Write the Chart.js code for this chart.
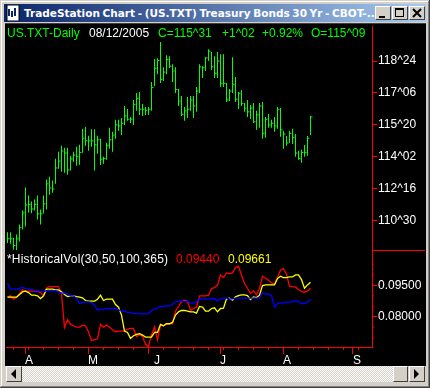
<!DOCTYPE html>
<html><head><meta charset="utf-8">
<script src="https://cdn.jsdelivr.net/npm/chart.js@4/dist/chart.umd.min.js"></script>
<style>
html,body{margin:0;padding:0;background:#d4d0c8;overflow:hidden}
#win{position:relative;width:430px;height:388px;background:#d4d0c8;overflow:hidden;box-sizing:border-box}
.abs{position:absolute}
#edgeT2{left:1px;top:1px;width:427px;height:1px;background:#fff}
#edgeL2{left:1px;top:1px;width:1px;height:385px;background:#fff}
#edgeR{left:429px;top:0;width:1px;height:388px;background:#404040}
#edgeR2{left:428px;top:1px;width:1px;height:386px;background:#808080}
#edgeB{left:0;top:387px;width:430px;height:1px;background:#404040}
#edgeB2{left:1px;top:386px;width:428px;height:1px;background:#808080}
#title{left:4px;top:4px;width:422px;height:18px;background:linear-gradient(90deg,#0a246a,#a6caf0)}
#ttext{left:24px;top:5px;color:#fff;font:bold 10.5px "DejaVu Sans";word-spacing:-1px;white-space:nowrap;line-height:16px}
#plot{left:5px;top:23px;width:421px;height:343px;background:#000;border-top:1px solid #404040;box-sizing:border-box}
canvas{position:absolute;left:6px;top:18px}
.leg{position:absolute;font:12px "Liberation Sans";white-space:nowrap;line-height:14px}
.btn{position:absolute;box-sizing:border-box;background:#d4d0c8;border:1px solid;border-color:#fff #404040 #404040 #fff}
#hatch{left:22px;top:366px;width:371px;height:16px;background-color:#fff;background-image:conic-gradient(#d4d0c8 25%,#fff 0 50%,#d4d0c8 0 75%,#fff 0);background-size:2px 2px}
#sep{left:372px;top:250px;width:53px;height:1px;background:#f00}
</style></head><body>
<div id="win">
<div class="abs" id="edgeT2"></div><div class="abs" id="edgeL2"></div>
<div class="abs" id="edgeR"></div><div class="abs" id="edgeR2"></div><div class="abs" id="edgeB"></div><div class="abs" id="edgeB2"></div>
<div class="abs" id="plot"></div>
<canvas id="c" width="419" height="348"></canvas>
<div class="abs" id="title"></div>
<svg class="abs" style="left:5px;top:5px" width="16" height="16"><rect x="2" y="0" width="12" height="16" fill="#fff" stroke="#000"/><path d="M4 11V4M7 12V6M10 11V3" stroke="#0a246a" stroke-width="2"/></svg>
<div class="abs" id="ttext">TradeStation Chart - (US.TXT) Treasury Bonds 30 Yr - CBOT-...</div>
<div class="btn" style="left:375px;top:6px;width:16px;height:14px"><div class="abs" style="left:3px;top:9px;width:6px;height:2px;background:#000"></div></div>
<div class="btn" style="left:392px;top:6px;width:16px;height:14px"><div class="abs" style="left:2px;top:1px;width:9px;height:9px;border:1px solid #000;border-top-width:2px;box-sizing:border-box"></div></div>
<div class="btn" style="left:409px;top:6px;width:16px;height:14px"><svg class="abs" style="left:2px;top:1px" width="10" height="10"><path d="M1 1L9 9M9 1L1 9" stroke="#000" stroke-width="2"/></svg></div>
<div class="abs" id="sep"></div>
<span class="leg" style="left:7px;top:26px;color:#0f0">US.TXT-Daily</span>
<span class="leg" style="left:89px;top:26px;color:#fff">08/12/2005</span>
<span class="leg" style="left:158px;top:26px;color:#0f0">C=115^31</span>
<span class="leg" style="left:222px;top:26px;color:#0f0">+1^02</span>
<span class="leg" style="left:262px;top:26px;color:#0f0">+0.92%</span>
<span class="leg" style="left:311px;top:26px;color:#0f0">O=115^09</span>
<span class="leg" style="left:7px;top:252px;color:#fff;letter-spacing:.2px">*HistoricalVol(30,50,100,365)</span>
<span class="leg" style="left:176px;top:252px;color:#f00">0.09440</span>
<span class="leg" style="left:228px;top:252px;color:#ff0">0.09661</span>
<div class="abs" id="hatch"></div>
<div class="btn" style="left:6px;top:366px;width:16px;height:16px"><svg class="abs" style="left:4px;top:2px" width="6" height="10"><path d="M5 0V10L0 5Z" fill="#000"/></svg></div>
<div class="btn" style="left:393px;top:366px;width:15px;height:16px"></div>
<div class="btn" style="left:409px;top:366px;width:16px;height:16px"><svg class="abs" style="left:4px;top:2px" width="6" height="10"><path d="M0 0V10L5 5Z" fill="#000"/></svg></div>
</div>
<script>
const highs=[110.36,110.36,110.09,110.25,110.74,111.42,112.55,112.16,111.86,111.96,
112.16,111.47,112.16,112.94,113.08,112.89,113.96,114.30,114.60,114.50,
114.50,114.11,114.30,114.55,114.65,115.43,115.53,115.09,115.41,115.41,
115.09,114.94,114.06,114.74,115.48,115.28,115.87,115.87,115.96,116.55,
116.40,116.01,116.84,117.18,117.23,116.65,116.50,116.50,117.72,118.85,
118.89,119.68,118.45,119.04,118.99,118.60,118.45,117.38,117.04,116.50,
116.99,117.04,117.04,117.48,118.60,118.50,118.94,119.33,119.19,118.99,
119.19,119.09,119.09,117.67,117.38,118.94,117.97,117.23,117.33,116.70,
116.84,116.60,116.70,116.31,116.70,116.74,116.01,116.16,115.87,116.01,
116.50,116.45,115.33,115.08,115.33,115.43,115.18,114.35,114.40,114.64,
115.08,116.06];
const lows=[109.83,109.79,109.50,109.47,109.91,110.49,110.64,111.33,111.29,111.42,
110.98,110.74,111.28,111.47,112.20,112.30,112.74,113.47,113.33,113.28,
113.18,113.38,113.82,113.62,113.67,114.26,114.60,114.35,114.55,113.38,
114.21,113.65,113.72,113.91,114.45,114.30,114.94,115.33,115.13,115.62,
115.82,115.72,115.62,116.31,116.11,116.06,116.11,116.11,116.31,117.53,
118.11,117.67,117.77,118.11,118.41,117.72,117.18,116.55,116.06,115.82,
115.96,116.31,115.96,116.26,117.18,117.92,118.26,118.75,118.31,117.92,
117.92,117.48,117.48,116.74,116.79,117.18,116.74,116.40,116.55,116.26,
116.01,115.91,115.72,115.38,115.48,114.94,114.99,115.48,115.48,115.28,
115.43,115.04,114.45,114.60,114.74,114.69,114.06,113.91,113.77,114.06,
114.11,115.13];
const closes=[110.04,110.04,109.71,110.04,110.58,111.31,111.70,111.72,111.50,111.72,
111.26,111.26,111.75,112.73,112.53,112.48,113.51,113.85,114.34,114.24,
113.41,113.95,114.14,114.06,114.27,114.97,114.84,114.84,114.84,114.65,
114.89,113.94,113.98,114.60,114.89,115.12,115.62,115.57,115.70,116.06,
115.90,115.90,116.63,116.91,116.39,116.39,116.34,116.39,117.46,118.39,
118.78,117.85,118.21,118.83,118.50,118.26,117.36,116.79,116.14,116.31,
116.39,116.84,116.55,117.28,118.47,118.42,118.91,119.24,118.47,118.15,
118.75,117.66,117.66,116.84,117.28,117.61,116.88,117.17,116.68,116.44,
116.26,116.45,115.77,116.11,116.55,115.21,115.90,115.62,115.70,115.57,
116.39,115.38,115.17,114.73,115.21,115.00,114.24,113.98,114.27,114.27,
114.97,116.01];
const volRed=[.08932,.08995,.08838,.08932,.0909,.09279,.09216,.09216,.09216,.09216,
.09216,.09153,.08995,.09374,.09437,.09437,.09437,.09437,.0909,.07497,
.0786,.07639,.07576,.07513,.07513,.07607,.07576,.07292,.06866,.06914,
.06945,.07639,.07513,.07607,.07513,.07387,.07292,.07324,.07324,.07324,
.07418,.0745,.0745,.07056,.07166,.07071,.06693,.06598,.07134,.07513,
.06914,.07607,.07576,.07671,.07671,.07671,.0827,.08491,.08711,.08774,
.08743,.08301,.08396,.08459,.08995,.08995,.08995,.09027,.09343,.0939,
.095,.09989,.09863,.10084,.10052,.10084,.10336,.10399,.09973,.09579,
.09358,.09106,.09232,.09043,.09343,.09926,.09831,.09737,.09611,.09548,
.09894,.1021,.10289,.10021,.09453,.09421,.09421,.09295,.09201,.09169,
.09232,.09358];
const volYellow=[.08932,.08932,.08932,.08932,.09058,.09184,.09216,.09153,.09027,.09027,
.08995,.08869,.08995,.09311,.09311,.09311,.09279,.09279,.09184,.09058,
.08964,.08995,.08995,.08964,.08932,.08901,.08774,.08743,.08743,.08743,
.08838,.09027,.08774,.08838,.08838,.08838,.08585,.08459,.08081,.07324,
.07261,.06977,.07103,.07166,.07197,.07134,.0704,.0704,.0704,.07261,
.07261,.07639,.07576,.07671,.07671,.07734,.08081,.08238,.08301,.08301,
.0827,.08238,.08238,.08175,.08491,.08459,.0827,.0827,.08396,.08428,
.08239,.08396,.08412,.08854,.08885,.08791,.08948,.09011,.09043,.09043,
.09011,.08822,.08948,.08917,.09027,.09484,.09516,.09516,.09516,.09516,
.09816,.09926,.09863,.09863,.09894,.09894,.09989,.09989,.09768,.09358,
.09516,.09642];
const volBlue=[.09579,.09311,.09311,.09311,.09342,.09405,.09342,.09311,.09311,.09248,
.09248,.09216,.09184,.09248,.09248,.09248,.09248,.09184,.09121,.09121,
.0909,.08995,.08995,.08869,.08632,.0868,.08711,.08711,.0868,.08554,
.08317,.08349,.08364,.08396,.08396,.08396,.08396,.08333,.0827,.0827,
.08207,.08207,.08144,.08175,.08144,.08144,.08144,.08144,.08301,.08364,
.08396,.08491,.08491,.08522,.08522,.08585,.08711,.08743,.08743,.08711,
.08743,.08648,.08648,.08711,.08869,.08838,.08838,.08838,.08869,.08869,
.08759,.08854,.08885,.08885,.08854,.08854,.08885,.08885,.08885,.08885,
.08885,.08885,.08885,.08885,.08885,.09153,.09074,.09074,.09011,.08475,
.08633,.08664,.08664,.08696,.08696,.08728,.08759,.08728,.08633,.08633,
.08696,.08822];
const priceTicks=[118.75,117.1875,115.625,114.0625,112.5,110.9375];
const priceTickLabels=['118^24','117^06','115^20','114^02','112^16','110^30'];
const volTicks=[0.095,0.08];
const volTickLabels=['0.09500','0.08000'];
const volMinorTicks=[0.105,0.1,0.09,0.085,0.075,0.07];
const monthBars=[6,27,47,71,92,115];
const monthLabelBars=[7.17,28.5,49.8,71.8,93.2,116.5];
const monthLabels=['A','M','J','J','A','S'];
const weekBars=[2,7,12,17,22,27,32,37,42,47,52,57,62,67,72,77,82,87,92,97,102,107,112,117];

const xMin=-0.5,xMax=121.5,volMin=0.06567;
const tickFont={family:'"Liberation Sans"',size:12};
const line=(data,color,order)=>({type:'line',data:data.map((y,x)=>({x,y})),yAxisID:'y2',borderColor:color,borderWidth:1.3,pointRadius:0,tension:0,order});
const markAxis=(bars,len)=>({type:'linear',axis:'x',position:{y2:volMin},min:xMin,max:xMax,offset:false,
  afterBuildTicks:s=>{s.ticks=bars.map(value=>({value}))},
  afterFit:s=>{s.height=0},
  grid:{drawOnChartArea:false,offset:false,tickColor:'#ff0000',tickLength:len},
  border:{display:false},
  ticks:{display:false}});
new Chart(document.getElementById('c'),{
  type:'bar',
  data:{datasets:[
    {type:'bar',data:highs.map((h,i)=>({x:i,y:[lows[i],h]})),yAxisID:'y',backgroundColor:'#00ff00',barThickness:1,inflateAmount:0,borderWidth:0,order:5},
    {type:'line',data:closes.map((y,x)=>({x,y})),yAxisID:'y',showLine:false,pointStyle:'dash',pointRadius:2,pointBorderColor:'#00ff00',pointBorderWidth:1,order:4},
    line(volRed,'#ff0000',3),
    line(volYellow,'#ffff00',2),
    line(volBlue,'#0000ff',1),
    {type:'line',data:volMinorTicks.map(y=>({x:xMax,y})),yAxisID:'y2',showLine:false,pointStyle:'dash',pointRadius:2,pointBorderColor:'#ff0000',pointBorderWidth:1,clip:false,order:6}
  ]},
  options:{
    responsive:false,animation:false,devicePixelRatio:1,
    layout:{padding:0,autoPadding:false},
    plugins:{legend:{display:false},tooltip:{enabled:false}},
    scales:{
      x:{type:'linear',position:'bottom',min:xMin,max:xMax,offset:false,
        afterBuildTicks:s=>{s.ticks=monthLabelBars.map(value=>({value}))},
        afterFit:s=>{s.height=19},
        grid:{drawOnChartArea:false,offset:false,tickColor:'rgba(0,0,0,0)',tickLength:7},
        border:{color:'#ff0000'},
        ticks:{color:'#fff',font:tickFont,autoSkip:false,maxRotation:0,padding:-1,callback:v=>monthLabels[monthLabelBars.indexOf(v)]}},
      xMonth:markAxis(monthBars,7),
      xWeek:markAxis(weekBars,3),
      y:{type:'linear',position:'right',stack:'p',stackWeight:225,min:109.47,max:120.46,
        afterBuildTicks:s=>{s.ticks=priceTicks.map(value=>({value}))},
        afterFit:s=>{s.width=53},
        grid:{drawOnChartArea:false,tickColor:'#ff0000',tickLength:5},
        border:{color:'#ff0000'},
        ticks:{color:'#fff',font:tickFont,padding:1,autoSkip:false,callback:v=>priceTickLabels[priceTicks.indexOf(v)]}},
      y2:{type:'linear',position:'right',stack:'p',stackWeight:97,min:volMin,max:0.11156,
        afterBuildTicks:s=>{s.ticks=volTicks.map(value=>({value}))},
        afterFit:s=>{s.width=53},
        grid:{drawOnChartArea:false,tickColor:'#ff0000',tickLength:5},
        border:{color:'#ff0000'},
        ticks:{color:'#fff',font:tickFont,padding:1,autoSkip:false,callback:v=>volTickLabels[volTicks.indexOf(v)]}}
    }
  }
});
</script>
</body></html>
